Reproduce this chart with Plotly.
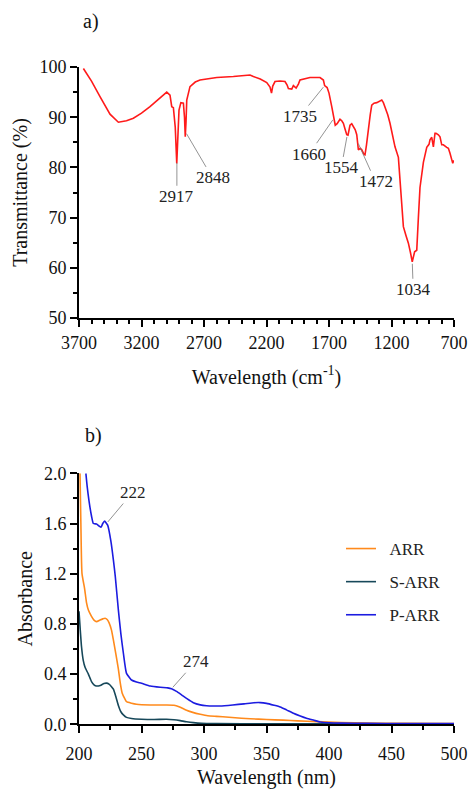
import numpy as np
import plotly.graph_objects as go

# ---------------- FTIR data (panel a) ----------------
ftir_wn = [3665, 3600, 3532, 3452, 3385, 3320, 3265, 3200, 3132, 3060, 2998, 2972, 2958, 2945,
           2930, 2918, 2908, 2900, 2885, 2865, 2856, 2850, 2844, 2838, 2812, 2770, 2732, 2598,
           2465, 2332, 2305, 2250, 2198, 2172, 2160, 2150, 2132, 2092, 2052, 2035, 2025, 1998,
           1985, 1973, 1963, 1945, 1932, 1852, 1772, 1745, 1735, 1715, 1700, 1678, 1665, 1650,
           1635, 1612, 1598, 1585, 1570, 1558, 1548, 1532, 1518, 1505, 1490, 1478, 1465, 1450,
           1438, 1420, 1412, 1400, 1385, 1370, 1358, 1340, 1318, 1300, 1278, 1265, 1252, 1230,
           1212, 1190, 1172, 1145, 1132, 1105, 1085, 1065, 1048, 1034, 1015, 998, 985, 972,
           945, 918, 900, 892, 878, 870, 865, 852, 844, 825, 812, 798, 785, 758, 745, 732,
           718, 710, 705, 700]
ftir_t = [99.7, 97.2, 94.1, 90.6, 89.0, 89.3, 89.8, 90.8, 92.1, 93.7, 95.0, 94.4, 92.1, 91.9,
          88.0, 80.8, 86.0, 91.4, 92.9, 92.8, 90.0, 86.1, 89.0, 93.4, 96.1, 97.0, 97.4, 97.9,
          98.1, 98.4, 98.1, 97.6, 96.9, 96.0, 94.8, 96.2, 97.1, 97.2, 97.1, 96.4, 95.7, 95.6,
          96.3, 96.1, 95.8, 96.6, 97.4, 97.9, 97.9, 97.4, 96.3, 95.9, 94.8, 92.1, 90.5, 88.4,
          88.7, 89.6, 89.3, 88.8, 87.5, 86.5, 86.4, 88.4, 88.7, 88.1, 87.5, 86.5, 83.5, 83.8,
          83.5, 82.6, 82.5, 84.5, 88.1, 90.5, 92.4, 92.8, 92.9, 93.2, 93.4, 92.9, 92.1, 90.5,
          88.8, 86.5, 84.1, 82.0, 77.0, 68.2, 66.5, 64.9, 63.0, 61.2, 63.2, 63.5, 70.0, 76.0,
          81.0, 84.0, 84.6, 85.5, 86.0, 84.8, 84.1, 86.8, 86.8, 86.5, 86.1, 84.5, 84.5, 84.0,
          83.8, 82.8, 81.5, 80.8, 81.4, 81.0]
ftir_peaks = [2917, 2848, 1735, 1660, 1554, 1472, 1034]

# ---------------- UV-vis data (panel b) ----------------
arr_nm = [200.8, 201.5, 202.4, 204.5, 206, 207.5, 210, 212, 214, 216.8, 219, 220.8, 222.5, 224,
          226, 227.5, 229.5, 231.5, 233, 234.5, 236.8, 238, 242, 246, 257, 270, 276, 280, 286,
          291, 297, 303, 310, 320, 330, 337, 350, 363.5, 375, 390, 410, 430, 460, 500]
arr_abs = [2.0, 1.6, 1.2, 1.08, 0.97, 0.91, 0.86, 0.83, 0.818, 0.831, 0.84, 0.845, 0.835, 0.81,
           0.75, 0.672, 0.56, 0.44, 0.33, 0.25, 0.2, 0.18, 0.168, 0.16, 0.154, 0.154, 0.152, 0.14,
           0.112, 0.095, 0.08, 0.068, 0.063, 0.056, 0.048, 0.044, 0.038, 0.033, 0.027, 0.021,
           0.014, 0.01, 0.008, 0.006]

sarr_nm = [200, 202, 203.4, 205, 207.5, 210, 212, 214, 217, 220, 222, 224, 226, 227.5, 229.5,
           231.5, 233.5, 235.5, 238, 242, 250, 260, 270, 276, 281, 286, 291.5, 298, 310, 350,
           400, 500]
sarr_abs = [0.9, 0.62, 0.51, 0.45, 0.40, 0.34, 0.315, 0.305, 0.31, 0.325, 0.328, 0.32, 0.3, 0.28,
            0.22, 0.15, 0.1, 0.075, 0.055, 0.046, 0.04, 0.038, 0.04, 0.036, 0.029, 0.02, 0.013,
            0.008, 0.006, 0.004, 0.003, 0.002]

parr_nm = [205.5, 206.6, 208, 210, 211.5, 214, 216, 217.6, 219, 220.5, 222, 223, 225.5, 227.5,
           229, 231.5, 233.5, 235.5, 238, 240.8, 242, 246, 250, 257, 265, 271, 274, 278, 282,
           286, 291.5, 297, 302, 309, 313, 323, 332, 340, 345, 350, 356, 361, 366, 371.5, 377,
           382, 388, 393, 400, 410, 430, 460, 500]
parr_abs = [2.0, 1.89, 1.78, 1.66, 1.60, 1.596, 1.58, 1.57, 1.60, 1.62, 1.60, 1.585, 1.46, 1.31,
            1.18, 0.91, 0.72, 0.566, 0.406, 0.367, 0.353, 0.337, 0.327, 0.305, 0.295, 0.29,
            0.283, 0.262, 0.235, 0.207, 0.172, 0.155, 0.148, 0.146, 0.146, 0.154, 0.163, 0.172,
            0.173, 0.167, 0.152, 0.138, 0.115, 0.088, 0.066, 0.048, 0.032, 0.019, 0.012, 0.009,
            0.007, 0.006, 0.005]
uv_peaks = [222, 274]

FONT = "Liberation Serif"
W, H = 469, 789


def px(xp):
    return xp / W


def py(yp):
    return 1 - yp / H


fig = go.Figure()
fig.add_trace(go.Scatter(x=ftir_wn, y=ftir_t, mode="lines", line=dict(color="#ff1a1a", width=1.6),
                         xaxis="x", yaxis="y", showlegend=False, hoverinfo="skip"))
fig.add_trace(go.Scatter(x=arr_nm, y=arr_abs, mode="lines", name="\u00a0\u00a0ARR",
                         line=dict(color="#ff8a1c", width=1.6, shape="spline", smoothing=0.5),
                         xaxis="x2", yaxis="y2", legendgroup="a"))
fig.add_trace(go.Scatter(x=sarr_nm, y=sarr_abs, mode="lines", name="\u00a0\u00a0S-ARR",
                         line=dict(color="#17485a", width=1.6, shape="spline", smoothing=0.5),
                         xaxis="x2", yaxis="y2", legendgroup="b"))
fig.add_trace(go.Scatter(x=parr_nm, y=parr_abs, mode="lines", name="\u00a0\u00a0P-ARR",
                         line=dict(color="#1c1ce0", width=1.6, shape="spline", smoothing=0.5),
                         xaxis="x2", yaxis="y2", legendgroup="c"))


def axis_common():
    return dict(showline=True, linewidth=2, linecolor="black", ticks="outside", ticklen=7,
                tickwidth=2, tickcolor="black", showgrid=False, zeroline=False, automargin=False,
                tickfont=dict(family=FONT, size=18, color="#111"),
                title_font=dict(family=FONT, size=20, color="#111"))


def minor(d):
    return dict(dtick=d, ticklen=4, tickwidth=2, tickcolor="black", ticks="outside")


xdom = [px(79), px(454)]
fig.update_layout(
    width=W, height=H, margin=dict(l=0, r=0, t=0, b=0, autoexpand=False),
    paper_bgcolor="white", plot_bgcolor="white",
    xaxis=dict(**axis_common(), domain=xdom, anchor="y", range=[3700, 700], tick0=700, dtick=500,
               minor=minor(100), title=dict(text="Wavelength (cm<sup>-1</sup>)", standoff=18)),
    yaxis=dict(**axis_common(), domain=[py(318), py(67)], anchor="x", range=[50, 100],
               dtick=10, minor=minor(5), title=dict(text="Transmittance (%)", standoff=6)),
    xaxis2=dict(**axis_common(), domain=xdom, anchor="y2", range=[200, 500], dtick=50,
                minor=minor(25), ticklabelstandoff=5,
                title=dict(text="Wavelength (nm)", standoff=8)),
    yaxis2=dict(**axis_common(), domain=[py(724.3), py(473.3)], anchor="x2", range=[0, 2.0],
                dtick=0.4, tickformat=".1f", minor=minor(0.2),
                title=dict(text="Absorbance", standoff=6)),
    legend=dict(x=341 / W, y=1 - 531 / H, xanchor="left", yanchor="top",
                bgcolor="rgba(0,0,0,0)",
                font=dict(family=FONT, size=17, color="#222"), tracegroupgap=8, itemwidth=30,
                traceorder="grouped"),
)

# panel labels
for lab, xp, yp in [("a)", 91, 21), ("b)", 93, 435)]:
    fig.add_annotation(text=lab, x=px(xp), y=py(yp), xref="paper", yref="paper",
                       xanchor="center", yanchor="middle", showarrow=False,
                       font=dict(family=FONT, size=20, color="#111"))

# FTIR peak labels
wn_inc = np.array(ftir_wn[::-1], dtype=float)
t_inc = np.array(ftir_t[::-1], dtype=float)
ftir_offsets = {2917: (0, 36), 2848: (27, 46), 1735: (-25, 31), 1660: (-25, 36),
                1554: (-6, 33), 1472: (18, 40), 1034: (1, 28)}
for p in ftir_peaks:
    ax, ay = ftir_offsets[p]
    fig.add_annotation(x=p, y=float(np.interp(p, wn_inc, t_inc)), xref="x", yref="y",
                       text=str(p), showarrow=True, arrowhead=0, arrowwidth=0.8,
                       arrowcolor="#777", ax=ax, ay=ay, standoff=2,
                       font=dict(family=FONT, size=17, color="#222"))

uv_offsets = {222: (26, -31), 274: (24, -27)}
for p in uv_peaks:
    ax, ay = uv_offsets[p]
    fig.add_annotation(x=p, y=float(np.interp(p, parr_nm, parr_abs)), xref="x2", yref="y2",
                       text=str(p), showarrow=True, arrowhead=0, arrowwidth=0.8,
                       arrowcolor="#777", ax=ax, ay=ay, standoff=2,
                       font=dict(family=FONT, size=17, color="#222"))

fig.write_html("out.html", config={"displayModeBar": False},
               post_script="document.body.style.margin='0';document.body.style.overflow='hidden';")
